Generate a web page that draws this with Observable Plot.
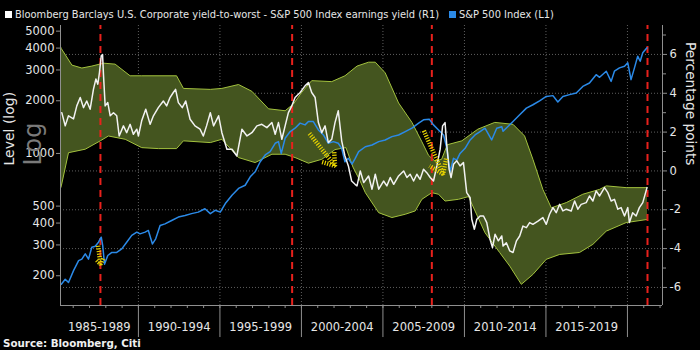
<!DOCTYPE html>
<html><head><meta charset="utf-8">
<script src="https://cdn.jsdelivr.net/npm/d3@7"></script>
<script src="https://cdn.jsdelivr.net/npm/@observablehq/plot@0.6"></script>
<style>
html,body{margin:0;padding:0;background:#000;width:700px;height:350px;overflow:hidden;font-family:"DejaVu Sans",sans-serif;}
#legend{position:absolute;left:0;top:0;width:700px;height:22px;color:#e6e6e6;font-size:9.9px;}
.sw{position:absolute;top:11px;width:7px;height:7px;}
.lt{position:absolute;top:8px;white-space:nowrap;line-height:13px;}
#chart{position:absolute;left:0;top:22px;}
#source{position:absolute;left:3px;top:338px;color:#f0f0f0;font-size:10.3px;font-weight:bold;white-space:nowrap;line-height:11px;}
</style></head><body>
<div id="legend">
  <div class="sw" style="left:5px;background:#ffffff"></div>
  <div class="lt" style="left:15px">Bloomberg Barclays U.S. Corporate yield-to-worst - S&amp;P 500 Index earnings yield (R1)</div>
  <div class="sw" style="left:449px;background:#2b8ae8"></div>
  <div class="lt" style="left:459px">S&amp;P 500 Index (L1)</div>
</div>
<div id="chart"></div>
<div id="source">Source: Bloomberg, Citi</div>
<script>
// ---- data ----
const spreadYears = [1985.30,1985.51,1985.71,1986.02,1986.22,1986.43,1986.63,1986.83,1987.04,1987.24,
1987.39,1987.51,1987.61,1987.72,1987.80,1987.86,1987.96,1988.12,1988.27,1988.47,
1988.67,1988.82,1989.08,1989.28,1989.49,1989.69,1989.90,1990.00,1990.20,1990.45,
1990.72,1990.92,1991.22,1991.53,1991.73,1991.94,1992.14,1992.28,1992.45,1992.69,
1992.90,1993.17,1993.47,1993.78,1993.98,1994.18,1994.41,1994.61,1994.92,1995.12,
1995.43,1995.74,1996.04,1996.35,1996.66,1996.96,1997.27,1997.57,1997.88,1998.19,
1998.39,1998.59,1998.80,1999.00,1999.20,1999.41,1999.61,1999.92,2000.22,2000.43,
2000.63,2000.84,2001.04,2001.25,2001.45,2001.65,2001.86,2002.06,2002.26,2002.47,
2002.67,2002.88,2003.08,2003.29,2003.41,2003.61,2003.82,2004.12,2004.33,2004.53,
2004.74,2005.04,2005.24,2005.45,2005.66,2005.96,2006.27,2006.47,2006.67,2006.88,
2007.08,2007.28,2007.49,2007.69,2007.90,2008.10,2008.31,2008.51,2008.66,2008.81,
2008.92,2009.06,2009.18,2009.33,2009.53,2009.73,2009.94,2010.14,2010.35,2010.45,
2010.61,2010.76,2010.96,2011.17,2011.37,2011.57,2011.72,2011.88,2012.08,2012.29,
2012.37,2012.57,2012.78,2012.98,2013.19,2013.39,2013.59,2013.80,2014.00,2014.20,
2014.51,2014.81,2015.02,2015.22,2015.43,2015.63,2015.84,2016.04,2016.25,2016.55,
2016.76,2016.96,2017.16,2017.47,2017.67,2017.88,2018.08,2018.29,2018.59,2018.80,
2019.00,2019.20,2019.41,2019.61,2019.82,2020.02,2020.12,2020.32,2020.53,2020.73,
2020.94,2021.20];
const spreadValues = [3.0,2.32,2.84,2.68,3.35,3.78,3.26,3.6,3.18,4.2,
4.73,4.47,5.07,5.93,6.0,4.9,3.35,3.52,2.84,3.0,
2.84,1.8,2.32,1.97,2.4,1.89,2.15,1.8,2.58,3.18,
2.4,2.84,3.26,3.6,3.35,3.78,4.04,4.2,3.52,3.26,
3.6,2.66,2.32,2.15,1.8,2.32,3.0,2.32,2.84,1.97,
1.12,1.12,0.77,2.15,1.8,1.97,2.32,2.4,2.23,2.49,
1.89,2.49,1.63,2.32,3.0,3.35,3.78,4.04,4.38,4.55,
4.04,3.78,2.49,1.97,2.32,1.46,1.63,2.49,3.1,1.55,
0.77,0.26,-0.52,-0.69,-0.77,0.0,-0.6,-0.26,-0.94,-0.17,
-0.94,-0.52,-0.77,-0.34,-0.69,-0.26,0,-0.34,-0.17,-0.52,
-0.17,-0.43,0.09,-0.09,-0.34,-0.52,0.26,1.12,2.32,2.49,
1.29,0.09,-0.34,0.34,0.52,0.26,0.43,-1.12,-1.38,-2.49,
-3.0,-2.49,-2.32,-2.32,-2.66,-3.52,-3.95,-3.26,-3.6,-3.35,
-3.87,-3.7,-4.12,-4.2,-3.6,-3.35,-2.84,-2.92,-2.66,-2.75,
-2.58,-2.4,-2.75,-2.23,-1.89,-2.15,-1.72,-2.06,-1.97,-2.06,
-1.55,-1.97,-1.72,-1.63,-1.29,-1.55,-1.03,-1.29,-0.86,-1.12,
-1.55,-1.46,-1.97,-1.89,-2.32,-1.89,-2.66,-2.15,-2.32,-1.89,
-1.63,-0.86];

const spYears = [1985.27,1985.51,1985.71,1986.02,1986.33,1986.53,1986.74,1986.94,1987.14,1987.35,
1987.55,1987.72,1987.81,1987.92,1988.12,1988.37,1988.67,1988.98,1989.28,1989.59,
1989.90,1990.10,1990.41,1990.61,1990.86,1991.06,1991.33,1991.63,1992.04,1992.45,
1992.86,1993.26,1993.67,1994.08,1994.41,1994.71,1995.02,1995.33,1995.74,1996.14,
1996.55,1996.86,1997.16,1997.47,1997.78,1998.08,1998.39,1998.59,1998.76,1999.00,
1999.31,1999.61,1999.92,2000.22,2000.43,2000.73,2001.04,2001.35,2001.65,2001.96,
2002.26,2002.47,2002.67,2002.88,2003.10,2003.30,2003.51,2003.92,2004.33,2004.74,
2005.14,2005.55,2005.96,2006.37,2006.78,2007.19,2007.49,2007.84,2008.10,2008.41,
2008.72,2008.92,2009.12,2009.33,2009.53,2009.73,2010.04,2010.35,2010.65,2010.96,
2011.26,2011.67,2011.98,2012.29,2012.37,2012.98,2013.39,2013.80,2014.20,2014.61,
2015.02,2015.43,2015.73,2016.04,2016.45,2016.86,2017.26,2017.67,2018.08,2018.29,
2018.70,2019.00,2019.20,2019.51,2019.82,2020.02,2020.22,2020.43,2020.63,2020.78,
2020.94,2021.20];
const spLevels = [179,191,183,214,244,249,267,249,291,295,
311,332,297,233,261,272,272,285,311,340,
355,347,355,363,304,325,387,396,414,433,
442,453,462,483,453,473,462,517,577,631,
658,735,785,896,980,1024,1143,1168,1000,1222,
1334,1394,1490,1456,1522,1522,1362,1275,1143,1168,
1143,1070,896,938,870,938,1024,1092,1117,1168,
1194,1248,1275,1334,1394,1490,1556,1570,1456,1362,
1275,1070,785,938,916,1000,1070,1194,1275,1334,
1394,1194,1394,1422,1340,1522,1662,1816,1898,2000,
2118,2140,1968,2118,2168,2215,2416,2528,2818,2723,
2951,2581,2951,3083,3150,3297,2641,3083,3598,3365,
3760,4017];

const upperYears = [1985.22,1985.27,1985.92,1986.53,1987.14,1987.86,1988.57,1989.49,1990.20,1992.34,
1992.76,1994.41,1995.12,1996.14,1996.96,1997.98,1999.00,1999.51,2000.02,2000.63,
2001.86,2002.67,2003.41,2004.12,2004.53,2005.14,2005.96,2006.78,2007.39,2007.80,
2008.20,2008.60,2008.95,2009.84,2010.82,2011.86,2012.98,2013.69,2014.20,2014.81,
2015.33,2016.25,2017.26,2018.29,2018.70,2019.92,2021.20];
const upperValues = [6.4,6.3,5.45,5.3,5.4,5.55,5.5,4.9,4.9,4.9,
4.25,4.2,4.25,4.45,4.1,3.2,3.1,3.45,4.05,4.65,
4.6,4.9,5.4,5.6,5.6,5.05,3.5,2.5,1.5,0.8,
0.5,0.6,1.35,1.55,2.15,2.5,2.4,1.8,0.6,-0.95,
-1.9,-1.63,-1.2,-0.95,-0.77,-0.86,-0.86];
const lowerYears = [1985.22,1985.27,1985.71,1986.74,1987.66,1988.16,1989.19,1990.20,1991.22,1992.34,
1992.76,1994.41,1995.12,1996.14,1997.16,1998.19,1999.00,1999.61,2000.43,2001.25,
2002.06,2002.73,2003.16,2003.59,2003.92,2004.74,2005.55,2006.37,2006.98,2007.39,
2008.00,2008.41,2008.81,2009.64,2010.25,2010.65,2011.26,2012.16,2012.78,2013.49,
2014.20,2015.02,2015.84,2017.06,2017.88,2018.70,2019.92,2021.20];
const lowerValues = [-0.9,-0.77,0.94,1.12,1.55,1.8,1.63,1.2,1.15,1.15,
1.55,1.46,1.63,0.69,0.43,0.86,0.86,0.69,0.4,0.6,
1.1,1.2,0.2,-0.5,-1.12,-2.15,-2.4,-2.23,-2.06,-1.46,
-1.12,-1.2,-1.55,-1.46,-1.32,-2.06,-3.18,-4.2,-4.9,-5.84,
-5.33,-4.55,-4.3,-4.2,-3.78,-3.1,-2.66,-2.5];

const crisisYears = [1987.67, 1999.43, 2008.0, 2021.23];
const arrowStartYears = [1987.53, 2000.49, 2007.51];
const arrowStartLevels = [297, 1300, 1349];
const arrowEndYears = [1987.67, 2002.06, 2008.69];
const arrowEndLevels = [233, 849, 762];

const leftTicks = [200, 300, 400, 500, 1000, 2000, 3000, 4000, 5000];
const rightTicks = [-6, -4, -2, 0, 2, 4, 6];
const rightMinor = [-5, -3, -1, 1, 3, 5, 7];
const periodLabels = ["1985-1989","1990-1994","1995-1999","2000-2004","2005-2009","2010-2014","2015-2019"];
const periodCenters = [1987.6, 1992.5, 1997.5, 2002.5, 2007.5, 2012.5, 2017.5];
const separatorYears = [1990, 1995, 2000, 2005, 2010, 2015, 2020];
const yearTicks = d3.range(1986, 2023);

// ---- scales ----
const X0 = 1985.22, X1 = 2022.15;
const Y0 = -6.93, Y1 = 7.49;
// left (log level) axis expressed in right-axis units
const toPP = v => 9.011 * Math.log10(v) - 26.132;
const fromPP = p => Math.pow(10, (p + 26.132) / 9.011);

const spread = spreadYears.map((x, i) => ({x, y: spreadValues[i]}));
const sp = spYears.map((x, i) => ({x, y: toPP(spLevels[i])}));
const upper = upperYears.map((x, i) => ({x, y: upperValues[i]}));
const lower = lowerYears.map((x, i) => ({x, y: lowerValues[i]}));
const bandPoly = upper.concat(lower.slice().reverse());
const arrows = arrowStartYears.map((x, i) => ({
  x1: x, y1: toPP(arrowStartLevels[i]), x2: arrowEndYears[i], y2: toPP(arrowEndLevels[i])
}));

const axisCol = "#8f8f8f";
const textCol = "#e6e6e6";

const chart = Plot.plot({
  width: 700, height: 318,
  marginTop: 3, marginBottom: 35, marginLeft: 60, marginRight: 38,
  style: {background: "#000", color: textCol, fontFamily: "'DejaVu Sans', sans-serif", fontSize: "11px", overflow: "visible"},
  x: {domain: [X0, X1], axis: null},
  y: {domain: [Y0, Y1], axis: null},
  marks: [
    Plot.ruleY(rightTicks, {stroke: "#5e5e5e", strokeDasharray: "1,2"}),
    Plot.ruleX(separatorYears, {stroke: "#5e5e5e", strokeDasharray: "1,2"}),
    Plot.line(bandPoly, {x: "x", y: "y", fill: "#44551f", stroke: "none"}),
    Plot.line(upper, {x: "x", y: "y", stroke: "#a3c23e", strokeWidth: 1}),
    Plot.line(lower, {x: "x", y: "y", stroke: "#a3c23e", strokeWidth: 1}),
    Plot.ruleX(crisisYears, {y1: Y0, y2: Y1, stroke: "#e8211c", strokeWidth: 2, strokeDasharray: "7,5"}),
    Plot.line(sp, {x: "x", y: "y", stroke: "#2b8ae8", strokeWidth: 1.5}),
    Plot.line(spread, {x: "x", y: "y", stroke: "#f2f2f2", strokeWidth: 1.5}),
    Plot.arrow(arrows, {x1: "x1", y1: "y1", x2: "x2", y2: "y2", stroke: "#e6d200", strokeWidth: 4.5,
      strokeDasharray: "1.2,1.4", strokeLinecap: "butt", strokeLinejoin: "miter", headLength: 9, headAngle: 70}),
    Plot.ruleX([X0, X1], {y1: Y0, y2: Y1, stroke: axisCol}),
    Plot.ruleY([Y0], {x1: X0, x2: X1, stroke: axisCol}),
    Plot.axisY(leftTicks.map(toPP), {anchor: "left", tickSize: 4, tickPadding: 2, stroke: axisCol, fill: textCol,
      tickFormat: d => String(Math.round(fromPP(d))), label: null, fontSize: 11.5}),
    Plot.axisY(rightTicks, {anchor: "right", tickSize: 4, tickPadding: 3, stroke: axisCol, fill: textCol,
      tickFormat: d => String(d), label: null, fontSize: 11.5}),
    Plot.axisY(rightMinor, {anchor: "right", tickSize: 3, stroke: axisCol, tickFormat: () => "", label: null}),
    Plot.axisX(yearTicks, {anchor: "bottom", tickSize: 3, stroke: axisCol, tickFormat: () => "", label: null}),
    Plot.ruleX(separatorYears, {y1: Y0, y2: Y0 - 1.65, stroke: axisCol}),
    Plot.text(periodLabels, {x: (d, i) => periodCenters[i], frameAnchor: "bottom", dy: 25, text: d => d, fill: textCol, fontSize: 11.5}),
    Plot.text(["Log"], {frameAnchor: "left", dx: -27, rotate: -90, text: d => d, fill: "#7a7a7a", fontSize: 24}),
    Plot.text(["Level (log)"], {frameAnchor: "left", dx: -51, rotate: -90, text: d => d, fill: textCol, fontSize: 14}),
    Plot.text(["Percentage points"], {frameAnchor: "right", dx: 28, rotate: 90, text: d => d, fill: textCol, fontSize: 13.7})
  ]
});
document.getElementById("chart").appendChild(chart);
</script>
</body></html>
